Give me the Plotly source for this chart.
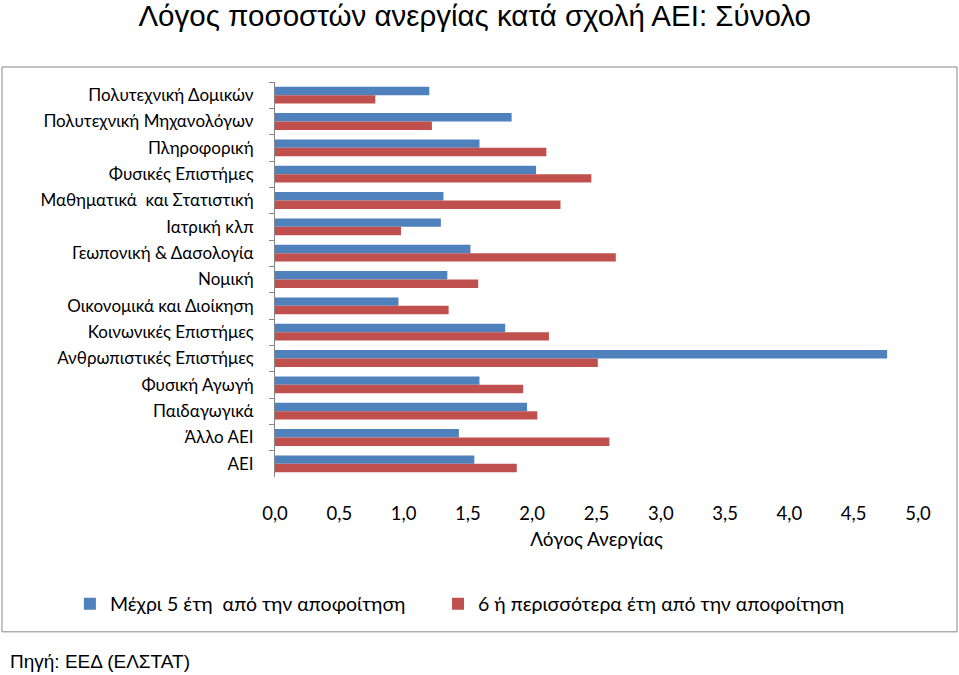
import plotly.graph_objects as go

categories = [
    "Πολυτεχνική Δομικών",
    "Πολυτεχνική Μηχανολόγων",
    "Πληροφορική",
    "Φυσικές Επιστήμες",
    "Μαθηματικά  και Στατιστική",
    "Ιατρική κλπ",
    "Γεωπονική & Δασολογία",
    "Νομική",
    "Οικονομικά και Διοίκηση",
    "Κοινωνικές Επιστήμες",
    "Ανθρωπιστικές Επιστήμες",
    "Φυσική Αγωγή",
    "Παιδαγωγικά",
    "Άλλο ΑΕΙ",
    "ΑΕΙ",
]
up_to_5_years = [1.20, 1.84, 1.59, 2.03, 1.31, 1.29, 1.52, 1.34, 0.96, 1.79, 4.76, 1.59, 1.96, 1.43, 1.55]
over_6_years = [0.78, 1.22, 2.11, 2.46, 2.22, 0.98, 2.65, 1.58, 1.35, 2.13, 2.51, 1.93, 2.04, 2.60, 1.88]
series_names = ["Μέχρι 5 έτη  από την αποφοίτηση", "6 ή περισσότερα έτη από την αποφοίτηση"]
x_ticks = [0, 0.5, 1, 1.5, 2, 2.5, 3, 3.5, 4, 4.5, 5]
x_tick_labels = ["0,0", "0,5", "1,0", "1,5", "2,0", "2,5", "3,0", "3,5", "4,0", "4,5", "5,0"]

_BLUE = "#4F81BD"
_RED = "#C0504D"
_FONT = "Lato, Noto Sans, sans-serif"
_TITLE_FONT = "Liberation Sans, Arial, sans-serif"

fig = go.Figure()
# each series gets its own legend box so both entries stay on one line
for name, values, color, legend_id in [
    (series_names[0], up_to_5_years, _BLUE, "legend"),
    (series_names[1], over_6_years, _RED, "legend2"),
]:
    fig.add_trace(
        go.Bar(
            y=categories,
            x=values,
            name=name,
            orientation="h",
            marker={"color": color, "line": {"width": 0}},
            legend=legend_id,
            showlegend=True,
        )
    )

_legend_common = {
    "y": -0.3215,
    "yanchor": "middle",
    "xanchor": "left",
    "font": {"size": 19.5},
    "bgcolor": "rgba(0,0,0,0)",
    "itemwidth": 30,
}

fig.update_layout(
    width=959,
    height=675,
    showlegend=True,
    barmode="group",
    bargap=0.36,
    bargroupgap=0,
    plot_bgcolor="white",
    paper_bgcolor="white",
    font={"family": _FONT, "size": 17, "color": "#000000"},
    margin={"l": 275, "r": 41, "t": 82, "b": 198, "autoexpand": False},
    title={
        "text": "Λόγος ποσοστών ανεργίας κατά σχολή ΑΕΙ: Σύνολο",
        "font": {"family": _TITLE_FONT, "size": 29.5},
        "x": 0.495,
        "xanchor": "center",
        "y": 0.977,
        "yanchor": "middle",
    },
    legend={**_legend_common, "x": -0.319},
    legend2={**_legend_common, "x": 0.2535},
    xaxis={
        "range": [0, 5],
        "tickvals": x_ticks,
        "ticktext": x_tick_labels,
        "showgrid": False,
        "zeroline": False,
        "showline": False,
        "ticks": "",
        "ticklabelstandoff": 23,
        "tickfont": {"size": 18.5},
        "title": {"text": "Λόγος Ανεργίας", "font": {"size": 19}, "standoff": 10},
        "automargin": False,
        "fixedrange": True,
    },
    yaxis={
        "autorange": "reversed",
        "showline": True,
        "linecolor": "#868686",
        "linewidth": 1,
        "ticks": "outside",
        "tickson": "boundaries",
        "ticklen": 5,
        "tickcolor": "#868686",
        "ticklabelstandoff": 17,
        "tickfont": {"size": 17},
        "showgrid": False,
        "automargin": False,
    },
)

# outer chart border
fig.add_shape(
    type="rect",
    xref="paper",
    yref="paper",
    x0=-0.4246,
    x1=1.0607,
    y0=-0.392,
    y1=1.038,
    line={"color": "#868686", "width": 1},
    fillcolor="rgba(0,0,0,0)",
    layer="below",
)

fig.add_annotation(
    text="Πηγή: ΕΕΔ (ΕΛΣΤΑΤ)",
    xref="paper",
    yref="paper",
    x=-0.415,
    y=-0.466,
    xanchor="left",
    yanchor="middle",
    showarrow=False,
    font={"family": _TITLE_FONT, "size": 19},
)

# drop the page's default body margin so the figure fills the window exactly
fig.write_html(
    "out.html",
    config={"displayModeBar": False},
    post_script="document.body.style.margin = '0';",
)
